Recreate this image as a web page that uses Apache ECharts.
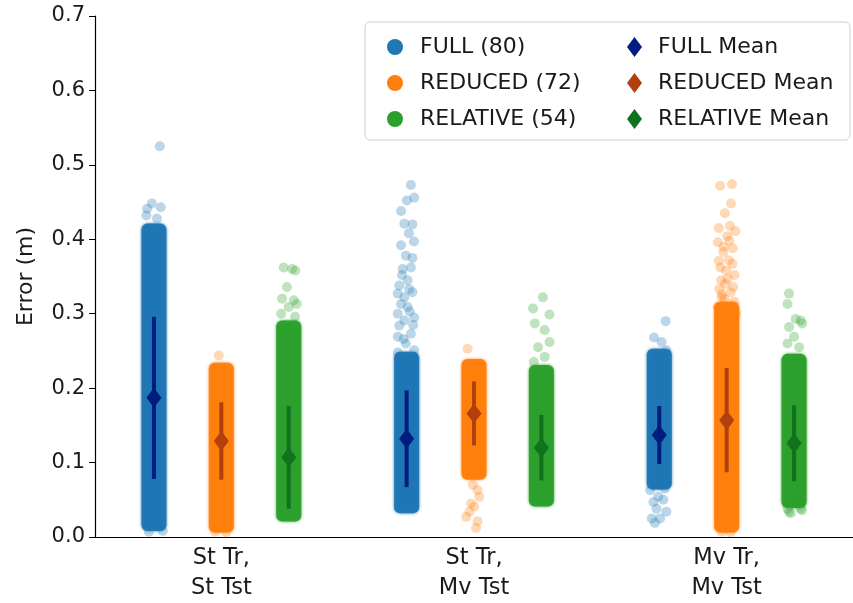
<!DOCTYPE html>
<html>
<head>
<meta charset="utf-8">
<script src="https://cdn.jsdelivr.net/npm/echarts@6/dist/echarts.min.js"></script>
<style>
  html, body { margin: 0; padding: 0; background: #fff; }
  #myChart { width: 853px; height: 603px; }
</style>
</head>
<body>
<div id="myChart"></div>
<script>
// categories and series names
var categories = ['St Tr,\nSt Tst', 'St Tr,\nMv Tst', 'Mv Tr,\nMv Tst'];
var hueNames = ['FULL (80)', 'REDUCED (72)', 'RELATIVE (54)'];
var meanNames = ['FULL Mean', 'REDUCED Mean', 'RELATIVE Mean'];
var hueOffset = [-0.2667, 0, 0.2667];

// dense part of each strip: [low, high] per category
var fullBand = [[0.014, 0.415], [0.038, 0.243], [0.07, 0.247]];
var reducedBand = [[0.012, 0.228], [0.083, 0.233], [0.012, 0.31]];
var relativeBand = [[0.027, 0.285], [0.047, 0.225], [0.045, 0.24]];

// loose points outside the dense part: [category, jitter, error]
var fullPoints = [
  [0, 0.023, 0.525], [0, -0.008, 0.448], [0, -0.027, 0.441], [0, 0.027, 0.443], [0, 0.012, 0.428],
  [0, -0.03, 0.432], [0, 0.035, 0.008], [0, -0.02, 0.007],
  [1, 0.017, 0.473], [1, 0.030, 0.456], [1, 0.001, 0.452], [1, -0.022, 0.438], [1, -0.009, 0.421],
  [1, 0.023, 0.420], [1, 0.009, 0.408], [1, 0.029, 0.397], [1, -0.022, 0.392], [1, -0.003, 0.378],
  [1, 0.023, 0.375], [1, -0.016, 0.360], [1, 0.017, 0.362], [1, 0.004, 0.345], [1, -0.029, 0.338],
  [1, 0.010, 0.333], [1, -0.035, 0.327], [1, -0.009, 0.322], [1, 0.023, 0.329], [1, -0.022, 0.313],
  [1, 0.004, 0.309], [1, -0.035, 0.300], [1, 0.030, 0.295], [1, -0.009, 0.291], [1, -0.029, 0.284],
  [1, 0.017, 0.273], [1, -0.035, 0.269], [1, -0.003, 0.260], [1, -0.035, 0.248], [1, 0.030, 0.251],
  [1, 0.012, 0.303], [1, -0.018, 0.352], [1, 0.026, 0.285], [1, -0.012, 0.266],
  [2, 0.025, 0.290], [2, -0.021, 0.268], [2, 0.009, 0.262], [2, 0.028, 0.251], [2, -0.036, 0.063],
  [2, 0.022, 0.065], [2, -0.004, 0.054], [2, -0.023, 0.047], [2, 0.016, 0.050], [2, -0.011, 0.038],
  [2, 0.028, 0.034], [2, -0.030, 0.025], [2, 0.003, 0.025], [2, -0.017, 0.019]
];
var reducedPoints = [
  [0, -0.01, 0.244], [0, 0.02, 0.006], [0, -0.025, 0.007],
  [1, -0.025, 0.253], [1, -0.005, 0.070], [1, 0.014, 0.063], [1, -0.012, 0.045], [1, 0.021, 0.054],
  [1, 0.001, 0.041], [1, -0.031, 0.027], [1, 0.014, 0.021], [1, 0.008, 0.012], [1, -0.018, 0.034],
  [2, -0.026, 0.472], [2, 0.021, 0.474], [2, 0.017, 0.448], [2, -0.007, 0.435], [2, -0.031, 0.415],
  [2, 0.013, 0.418], [2, 0.034, 0.411], [2, -0.035, 0.396], [2, 0.011, 0.398], [2, -0.013, 0.383],
  [2, -0.031, 0.371], [2, 0.023, 0.367], [2, -0.003, 0.358], [2, -0.022, 0.345], [2, 0.004, 0.347],
  [2, 0.026, 0.336], [2, -0.029, 0.333], [2, -0.009, 0.320], [2, 0.030, 0.316], [2, -0.035, 0.309],
  [2, 0.011, 0.304], [2, 0.036, 0.300], [2, -0.02, 0.007], [2, 0.015, 0.006],
  [2, -0.018, 0.326], [2, 0.016, 0.329], [2, -0.006, 0.340], [2, 0.031, 0.352], [2, -0.025, 0.362],
  [2, 0.008, 0.372], [2, -0.012, 0.390], [2, 0.024, 0.388], [2, 0.002, 0.404], [2, -0.020, 0.322]
];
var relativePoints = [
  [0, -0.020, 0.362], [0, 0.013, 0.360], [0, 0.026, 0.358], [0, -0.007, 0.336], [0, -0.026, 0.320],
  [0, 0.020, 0.318], [0, 0.0, 0.309], [0, 0.032, 0.313], [0, -0.03, 0.300], [0, 0.025, 0.296],
  [1, 0.006, 0.322], [1, -0.033, 0.307], [1, 0.032, 0.299], [1, -0.026, 0.287], [1, 0.013, 0.278],
  [1, 0.032, 0.262], [1, -0.013, 0.255], [1, 0.013, 0.242], [1, -0.03, 0.235],
  [2, -0.020, 0.327], [2, -0.026, 0.313], [2, 0.006, 0.293], [2, 0.026, 0.291], [2, -0.020, 0.282],
  [2, 0.032, 0.287], [2, 0.0, 0.269], [2, 0.020, 0.255], [2, -0.026, 0.260], [2, -0.026, 0.038],
  [2, 0.026, 0.038], [2, -0.013, 0.032], [2, 0.006, 0.045], [2, -0.020, 0.034], [2, 0.032, 0.036]
];

// mean and standard deviation per category
var fullMean = [0.187, 0.132, 0.137];
var fullSd = [0.109, 0.065, 0.039];
var reducedMean = [0.129, 0.166, 0.157];
var reducedSd = [0.052, 0.043, 0.070];
var relativeMean = [0.107, 0.120, 0.126];
var relativeSd = [0.069, 0.044, 0.051];

var colors = ['#1f77b4', '#ff7f0e', '#2ca02c'];
var darkColors = ['#001c7f', '#b1400d', '#12711c'];
var fontName = 'DejaVu Sans';

var bands = [fullBand, reducedBand, relativeBand];
var points = [fullPoints, reducedPoints, relativePoints];
var means = [fullMean, reducedMean, relativeMean];
var sds = [fullSd, reducedSd, relativeSd];

var series = [];
for (var h = 0; h < 3; h++) {
  (function (h) {
    var bandData = bands[h].map(function (b, i) { return [i + hueOffset[h], b[0], b[1]]; });
    series.push({
      name: hueNames[h],
      type: 'custom',
      xAxisIndex: 1,
      encode: { x: 0, y: [1, 2] },
      data: bandData,
      z: 2,
      renderItem: function (params, api) {
        var x = api.value(0);
        var top = api.coord([x, api.value(2)]);
        var bot = api.coord([x, api.value(1)]);
        return {
          type: 'rect',
          shape: { x: top[0] - 12.5, y: top[1] - 4.5, width: 25, height: bot[1] - top[1] + 9, r: 6 },
          style: { fill: colors[h], opacity: 0.95, shadowBlur: 3, shadowColor: colors[h] }
        };
      }
    });
    series.push({
      name: hueNames[h],
      type: 'scatter',
      xAxisIndex: 1,
      symbolSize: 10,
      itemStyle: { color: colors[h], opacity: 0.3 },
      data: points[h].map(function (p) { return [p[0] + hueOffset[h] + p[1], p[2]]; }),
      z: 2
    });
  })(h);
}
for (var h = 0; h < 3; h++) {
  (function (h) {
    series.push({
      name: meanNames[h],
      type: 'custom',
      xAxisIndex: 1,
      encode: { x: 0, y: [1, 2] },
      data: means[h].map(function (m, i) { return [i + hueOffset[h], m - sds[h][i], m + sds[h][i]]; }),
      z: 5,
      renderItem: function (params, api) {
        var x = api.value(0);
        var a = api.coord([x, api.value(1)]);
        var b = api.coord([x, api.value(2)]);
        return {
          type: 'line',
          shape: { x1: a[0], y1: a[1], x2: b[0], y2: b[1] },
          style: { stroke: darkColors[h], lineWidth: 4 }
        };
      }
    });
    series.push({
      name: meanNames[h],
      type: 'scatter',
      xAxisIndex: 1,
      symbol: 'diamond',
      symbolSize: [15, 20],
      itemStyle: { color: darkColors[h], opacity: 1 },
      data: means[h].map(function (m, i) { return [i + hueOffset[h], m]; }),
      z: 6
    });
  })(h);
}

var myChart = echarts.init(document.getElementById('myChart'));
myChart.setOption({
  animation: false,
  textStyle: { fontFamily: fontName },
  grid: { left: 95, right: -10, top: 16, bottom: 66, containLabel: false },
  legend: [{
    orient: 'vertical',
    left: 387,
    top: 35,
    padding: 0,
    itemWidth: 16,
    itemHeight: 16,
    itemGap: 12,
    textStyle: { fontFamily: fontName, fontSize: 22, lineHeight: 24, color: '#1a1a1a', padding: [0, 0, 0, 12] },
    data: hueNames.map(function (n, i) {
      return { name: n, icon: 'circle', itemStyle: { color: colors[i], opacity: 1 } };
    })
  }, {
    orient: 'vertical',
    left: 627,
    top: 35,
    padding: 0,
    itemWidth: 15,
    itemHeight: 20,
    itemGap: 12,
    textStyle: { fontFamily: fontName, fontSize: 22, lineHeight: 24, color: '#1a1a1a', padding: [0, 0, 0, 11] },
    data: meanNames.map(function (n, i) {
      return { name: n, icon: 'diamond', itemStyle: { color: darkColors[i], opacity: 1 } };
    })
  }],
  graphic: [{
    type: 'rect',
    z: 3,
    shape: { x: 365, y: 22, width: 485, height: 118, r: 5 },
    style: { fill: 'rgba(255,255,255,0.8)', stroke: '#d0d0d0', lineWidth: 1 }
  }],
  xAxis: [{
    type: 'category',
    data: categories,
    boundaryGap: true,
    axisLine: { lineStyle: { color: '#000', width: 1.2 } },
    axisTick: { alignWithLabel: true, length: 6, lineStyle: { color: '#000' } },
    axisLabel: { fontSize: 22.5, color: '#1a1a1a', lineHeight: 30, margin: 6 },
    splitLine: { show: false }
  }, {
    type: 'value',
    min: -0.5,
    max: 2.5,
    show: false,
    splitLine: { show: false }
  }],
  yAxis: {
    type: 'value',
    min: 0,
    max: 0.7,
    interval: 0.1,
    name: 'Error (m)',
    nameLocation: 'middle',
    nameGap: 58,
    nameTextStyle: { fontSize: 22, color: '#1a1a1a' },
    axisLine: { show: true, onZero: false, lineStyle: { color: '#000', width: 1.2 } },
    axisTick: { show: true, length: 6, lineStyle: { color: '#000' } },
    axisLabel: { fontSize: 21, color: '#1a1a1a', margin: 10, formatter: function (v) { return v.toFixed(1); } },
    splitLine: { show: false }
  },
  series: series
});
</script>
</body>
</html>
